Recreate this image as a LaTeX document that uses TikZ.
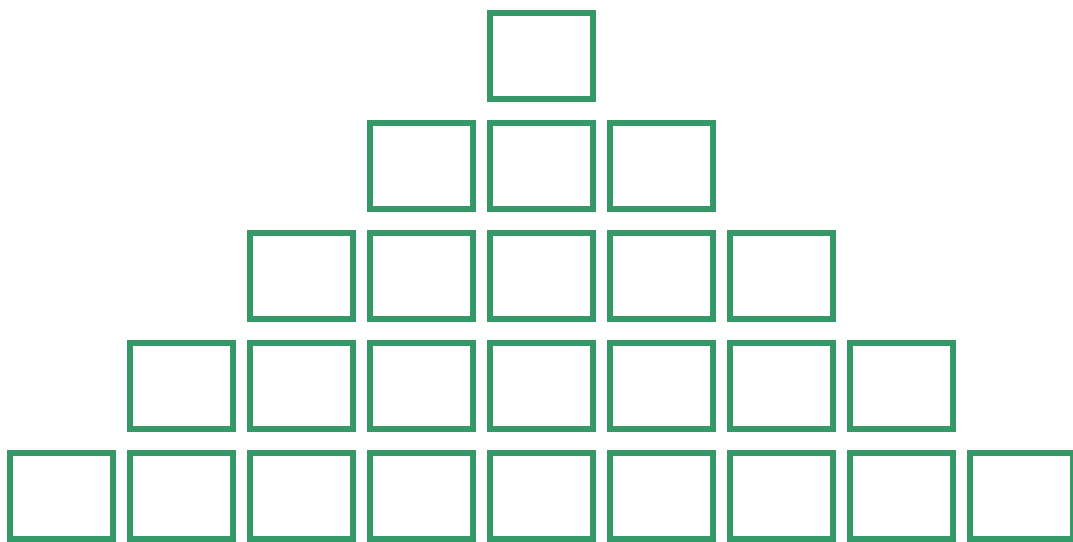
\documentclass[tikz,border=0pt]{standalone}
\usepackage{tikz}
\definecolor{boxgreen}{RGB}{52,153,102}
\tikzset{
  cell/.style={draw=boxgreen, line width=5.5pt, minimum width=103pt,
    minimum height=86pt, inner sep=0pt, outer sep=0pt},
}
\begin{document}
\begin{tikzpicture}[x=1pt, y=-1pt]
  \useasboundingbox (0,0) rectangle (1073,541);
  % rows of the pyramid, row r has 2r+1 cells
  \foreach \r in {0,...,4} {
    \pgfmathtruncatemacro{\last}{2*\r}
    \foreach \i in {0,...,\last} {
      \node[cell] (c-\r-\i) at ({541.5-120*\r+120*\i}, {56+110*\r}) {};
    }
  }
\end{tikzpicture}
\end{document}
